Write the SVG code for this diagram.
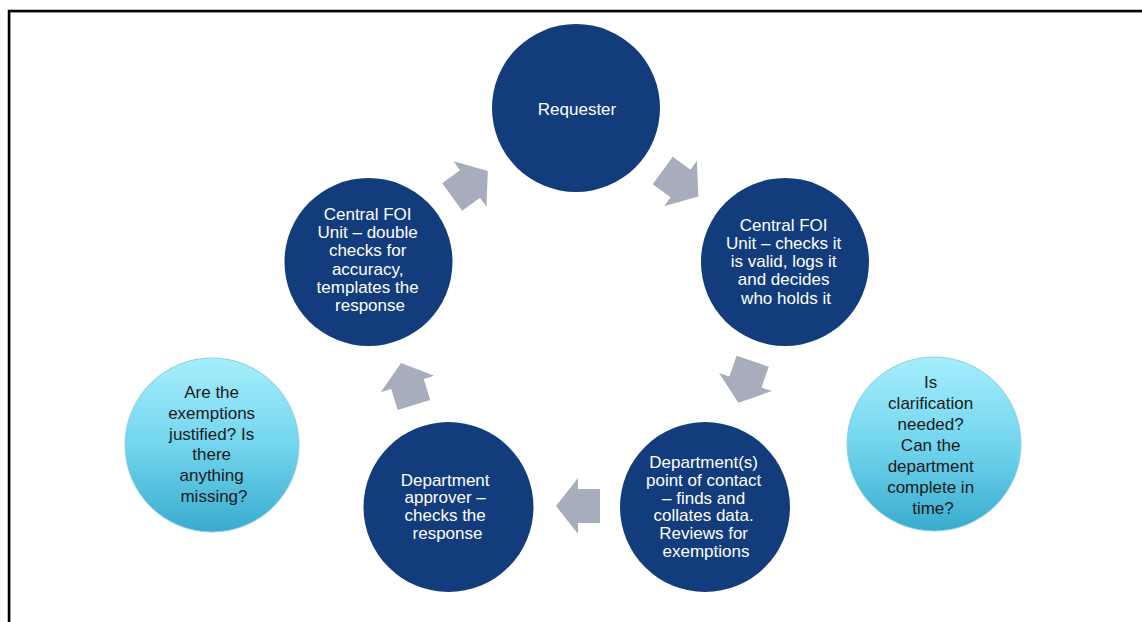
<svg xmlns="http://www.w3.org/2000/svg" xmlns:xlink="http://www.w3.org/1999/xlink" width="1142" height="622" viewBox="0 0 1142 622">
  <style>
    .dark { fill: #123c7c; }
    .light { fill: url(#lightGrad); stroke: #8ccfe4; stroke-width: 1; }
    .wt { font-family: "Liberation Sans", Arial, sans-serif; font-size: 17px; fill: #ffffff; text-anchor: middle; }
    .bt { font-family: "Liberation Sans", Arial, sans-serif; font-size: 17px; fill: #1a1a1a; text-anchor: middle; }
    .arrow { fill: #a8adbd; }
  </style>
  <defs>
    <linearGradient id="lightGrad" x1="0" y1="0" x2="0" y2="1">
      <stop offset="0" stop-color="#a6eefc"/>
      <stop offset="0.5" stop-color="#72d5ee"/>
      <stop offset="1" stop-color="#39abcd"/>
    </linearGradient>
    <polygon id="blockArrow" points="-22,-17 0,-17 0,-28 22,0 0,28 0,17 -22,17"/>
  </defs>
  <rect width="1142" height="622" fill="#ffffff"/>
  <g id="frame">
    <path d="M10.5,622 V12.5 H1142" fill="none" stroke="#c8c8c8" stroke-width="1"/>
    <path d="M9,622 V11 H1142" fill="none" stroke="#000000" stroke-width="2.5"/>
  </g>

  <g id="connectors">
    <use xlink:href="#blockArrow" class="arrow" transform="translate(680.5,183.5) rotate(36)"/>
    <use xlink:href="#blockArrow" class="arrow" transform="translate(745.5,382) rotate(109)"/>
    <use xlink:href="#blockArrow" class="arrow" transform="translate(578,506) rotate(180)"/>
    <use xlink:href="#blockArrow" class="arrow" transform="translate(407.5,384) rotate(-107)"/>
    <use xlink:href="#blockArrow" class="arrow" transform="translate(470,184) rotate(-36)"/>
  </g>

  <g id="node-requester">
    <circle class="dark" cx="576" cy="108" r="84"/>
    <text class="wt" x="577" y="114.5">Requester</text>
  </g>

  <g id="node-central-foi-checks">
    <circle class="dark" cx="785" cy="262" r="84"/>
    <text class="wt" x="786">
      <tspan x="786" y="230.5">Central FOI</tspan>
      <tspan x="786" y="248.75">Unit – checks it</tspan>
      <tspan x="786" y="267">is valid, logs it</tspan>
      <tspan x="786" y="285.25">and decides</tspan>
      <tspan x="786" y="303.5">who holds it</tspan>
    </text>
  </g>

  <g id="node-department-contact">
    <circle class="dark" cx="705" cy="507" r="85"/>
    <text class="wt">
      <tspan x="706" y="468.3">Department(s)</tspan>
      <tspan x="706" y="486">point of contact</tspan>
      <tspan x="706" y="503.7">– finds and</tspan>
      <tspan x="706" y="521.4">collates data.</tspan>
      <tspan x="706" y="539.1">Reviews for</tspan>
      <tspan x="706" y="556.8">exemptions</tspan>
    </text>
  </g>

  <g id="node-department-approver">
    <circle class="dark" cx="448.5" cy="507" r="85"/>
    <text class="wt">
      <tspan x="447.5" y="485.7">Department</tspan>
      <tspan x="447.5" y="503.4">approver –</tspan>
      <tspan x="447.5" y="521.1">checks the</tspan>
      <tspan x="447.5" y="538.8">response</tspan>
    </text>
  </g>

  <g id="node-central-foi-double-checks">
    <circle class="dark" cx="368.5" cy="262" r="84"/>
    <text class="wt">
      <tspan x="370" y="220">Central FOI</tspan>
      <tspan x="370" y="238.2">Unit – double</tspan>
      <tspan x="370" y="256.4">checks for</tspan>
      <tspan x="370" y="274.6">accuracy,</tspan>
      <tspan x="370" y="292.8">templates the</tspan>
      <tspan x="370" y="311">response</tspan>
    </text>
  </g>

  <g id="note-exemptions">
    <circle class="light" cx="212" cy="445" r="87"/>
    <text class="bt">
      <tspan x="214" y="398">Are the</tspan>
      <tspan x="214" y="418.8">exemptions</tspan>
      <tspan x="214" y="439.6">justified? Is</tspan>
      <tspan x="214" y="460.4">there</tspan>
      <tspan x="214" y="481.2">anything</tspan>
      <tspan x="214" y="502">missing?</tspan>
    </text>
  </g>

  <g id="note-clarification">
    <circle class="light" cx="934" cy="444" r="87"/>
    <text class="bt">
      <tspan x="933" y="388.3">Is</tspan>
      <tspan x="933" y="409.3">clarification</tspan>
      <tspan x="933" y="430.3">needed?</tspan>
      <tspan x="933" y="451.3">Can the</tspan>
      <tspan x="933" y="472.3">department</tspan>
      <tspan x="933" y="493.3">complete in</tspan>
      <tspan x="933" y="514.3">time?</tspan>
    </text>
  </g>
</svg>
